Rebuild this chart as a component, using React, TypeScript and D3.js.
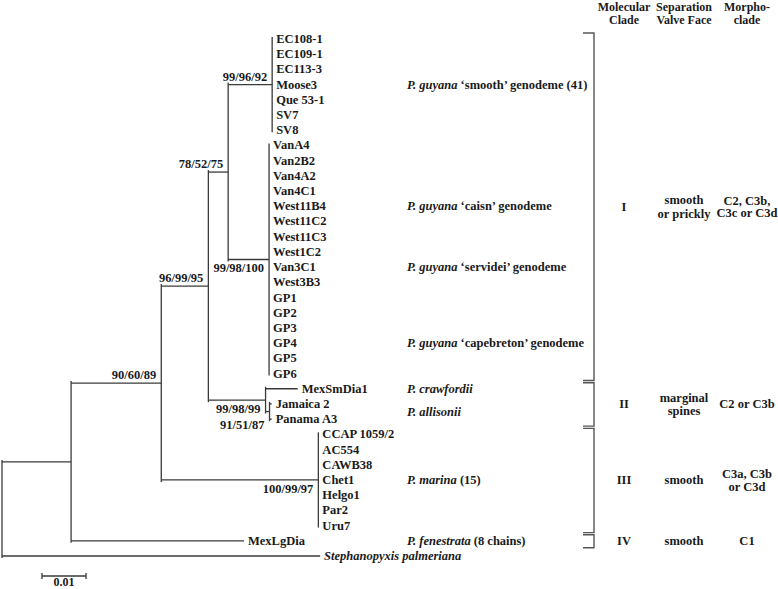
import React from "react";
import * as d3 from "d3";

// ---- Tree data ----
const leafNames = [
  "EC108-1", "EC109-1", "EC113-3", "Moose3", "Que 53-1", "SV7", "SV8",
  "VanA4", "Van2B2", "Van4A2", "Van4C1", "West11B4", "West11C2", "West11C3",
  "West1C2", "Van3C1", "West3B3", "GP1", "GP2", "GP3", "GP4", "GP5", "GP6",
  "MexSmDia1", "Jamaica 2", "Panama A3",
  "CCAP 1059/2", "AC554", "CAWB38", "Chet1", "Helgo1", "Par2", "Uru7",
  "MexLgDia", "Stephanopyxis palmeriana",
];

// node id, parent id, branch length (substitutions/site), in drawing order
const nodeIds = [
  "root", "A", "B", "C", "F", "G",
  "EC108-1", "EC109-1", "EC113-3", "Moose3", "Que 53-1", "SV7", "SV8",
  "H", "VanA4", "Van2B2", "Van4A2", "Van4C1", "West11B4", "West11C2", "West11C3",
  "West1C2", "Van3C1", "West3B3", "GP1", "GP2", "GP3", "GP4", "GP5", "GP6",
  "D", "MexSmDia1", "E", "Jamaica 2", "Panama A3",
  "M", "CCAP 1059/2", "AC554", "CAWB38", "Chet1", "Helgo1", "Par2", "Uru7",
  "MexLgDia", "Stephanopyxis palmeriana",
];
const nodeParents = [
  "", "root", "A", "B", "C", "F",
  "G", "G", "G", "G", "G", "G", "G",
  "F", "H", "H", "H", "H", "H", "H", "H",
  "H", "H", "H", "H", "H", "H", "H", "H", "H",
  "C", "D", "D", "E", "E",
  "B", "M", "M", "M", "M", "M", "M", "M",
  "A", "root",
];
const branchLengths = [
  0, 0.0157, 0.0205, 0.0107, 0.0045, 0.01,
  0, 0, 0, 0, 0, 0, 0,
  0.0093, 0, 0, 0, 0, 0, 0, 0,
  0, 0, 0, 0, 0, 0, 0, 0, 0,
  0.013, 0.0073, 0.0009, 0.0005, 0.0005,
  0.0357, 0, 0, 0, 0, 0, 0, 0,
  0.0393, 0.0723,
];

// bootstrap supports
const supportNodes = ["B", "C", "F", "G", "H", "D", "E", "M"];
const supportValues = ["90/60/89", "96/99/95", "78/52/75", "99/96/92", "99/98/100", "99/98/99", "91/51/87", "100/99/97"];
const supportSide = ["above", "above", "above", "above", "below", "below", "below2", "below"];

// taxon group annotations
const groupAnchors = ["G", "West11B4", "Van3C1", "GP4", "MexSmDia1", "E", "M", "MexLgDia"];
const groupItalic = ["P. guyana", "P. guyana", "P. guyana", "P. guyana", "P. crawfordii", "P. allisonii", "P. marina", "P. fenestrata"];
const groupRest = [" \u2018smooth\u2019 genodeme (41)", " \u2018caisn\u2019 genodeme", " \u2018servidei\u2019 genodeme", " \u2018capebreton\u2019 genodeme", "", "", " (15)", " (8 chains)"];

// clade table
const headers = [["Molecular", "Clade"], ["Separation", "Valve Face"], ["Morpho-", "clade"]];
const cladeNames = ["I", "II", "III", "IV"];
const cladeFirst = ["EC108-1", "MexSmDia1", "CCAP 1059/2", "MexLgDia"];
const cladeLast = ["GP6", "Panama A3", "Uru7", "MexLgDia"];
const valveFace = [["smooth", "or prickly"], ["marginal", "spines"], ["smooth"], ["smooth"]];
const morphoClade = [["C2, C3b,", "C3c or C3d"], ["C2 or C3b"], ["C3a, C3b", "or C3d"], ["C1"]];
const scaleBarValue = 0.01;

const W = 778;
const H = 589;
const FONT = "'Liberation Serif', 'Times New Roman', serif";
const INK = "#1a1a1a";
const LINE = "#3a3a3a";

export default function App() {
  const rows = nodeIds.map((id, i) => ({ id, parent: nodeParents[i], len: branchLengths[i] }));
  const root = d3.stratify<any>().id((d) => d.id).parentId((d) => d.parent || null)(rows);

  const x = d3.scaleLinear().domain([0, scaleBarValue]).range([2, 46]);
  const y = d3.scalePoint<string>().domain(leafNames).range([39, 556]);

  const pos: Record<string, { x: number; y: number }> = {};
  root.eachBefore((n: any) => {
    const px = n.parent ? pos[n.parent.id].x : x(0);
    pos[n.id] = { x: n.parent ? px + (x(n.data.len) - x(0)) : x(0), y: 0 };
  });
  root.eachAfter((n: any) => {
    if (n.children) {
      const ys = n.children.map((c: any) => pos[c.id].y);
      pos[n.id].y = (ys[0] + ys[ys.length - 1]) / 2;
    } else {
      pos[n.id].y = y(n.id) as number;
    }
  });

  const segs: any[] = [];
  root.each((n: any) => {
    const p = pos[n.id];
    if (n.parent) {
      const pp = pos[n.parent.id];
      if (p.x - pp.x > 0.1)
        segs.push(<line key={"h" + n.id} x1={pp.x} x2={p.x} y1={p.y} y2={p.y} />);
    }
    if (n.children) {
      const ys = n.children.map((c: any) => pos[c.id].y);
      segs.push(<line key={"v" + n.id} x1={p.x} x2={p.x} y1={ys[0] - 2} y2={ys[ys.length - 1] + 2} />);
    }
  });
  const leaves = root.leaves();

  const colX = [624, 684, 747];

  const bracketX = 594;
  const sb0 = 42;
  const sb1 = sb0 + (x(scaleBarValue) - x(0));

  return (
    <svg width={W} height={H} style={{ position: "absolute", left: 0, top: 0, background: "#fff" }}
      fontFamily={FONT} fontWeight="bold" fontSize={12.5} fill={INK}>
      <rect width={W} height={H} fill="#fff" />
      <g stroke={LINE} strokeWidth={1.3} fill="none">{segs}</g>

      {leaves.map((n: any) => {
        const p = pos[n.id];
        const italic = n.id.startsWith("Stephanopyxis");
        return (
          <text key={"l" + n.id} x={p.x + 4} y={p.y} dominantBaseline="central" fontStyle={italic ? "italic" : "normal"}>
            {n.id}
          </text>
        );
      })}

      {supportNodes.map((id, i) => {
        const p = pos[id];
        const side = supportSide[i];
        const dy = side === "above" ? -8 : side === "below" ? 9 : 13;
        return (
          <text key={"s" + id} x={p.x - 5} y={p.y + dy} textAnchor="end" dominantBaseline="central">
            {supportValues[i]}
          </text>
        );
      })}

      {groupAnchors.map((id, i) => (
        <text key={"g" + i} x={407} y={pos[id].y} dominantBaseline="central">
          <tspan fontStyle="italic">{groupItalic[i]}</tspan>
          <tspan>{groupRest[i]}</tspan>
        </text>
      ))}

      {headers.map((lines, c) =>
        lines.map((t, j) => (
          <text key={"hd" + c + j} x={colX[c]} y={7 + j * 13} textAnchor="middle" dominantBaseline="central" fontSize={12}>
            {t}
          </text>
        ))
      )}

      {cladeNames.map((name, i) => {
        const y0 = (y(cladeFirst[i]) as number) - 6;
        const y1 = (y(cladeLast[i]) as number) + 7;
        const cy = (y0 + y1) / 2;
        const vf = valveFace[i];
        const mc = morphoClade[i];
        return (
          <g key={"c" + name}>
            <path d={`M${bracketX - 11},${y0}H${bracketX}V${y1}H${bracketX - 11}`} stroke="#555" strokeWidth={1.4} fill="none" />
            <text x={colX[0]} y={cy} textAnchor="middle" dominantBaseline="central">{name}</text>
            {vf.map((t, j) => (
              <text key={"v" + j} x={colX[1]} y={cy + (j - (vf.length - 1) / 2) * 13.5} textAnchor="middle" dominantBaseline="central">{t}</text>
            ))}
            {mc.map((t, j) => (
              <text key={"m" + j} x={colX[2]} y={cy + (j - (mc.length - 1) / 2) * 12.5} textAnchor="middle" dominantBaseline="central">{t}</text>
            ))}
          </g>
        );
      })}

      <g stroke={LINE} strokeWidth={1.3}>
        <line x1={sb0} x2={sb1} y1={576} y2={576} />
        <line x1={sb0} x2={sb0} y1={573} y2={579} />
        <line x1={sb1} x2={sb1} y1={573} y2={579} />
      </g>
      <text x={(sb0 + sb1) / 2} y={582} textAnchor="middle" dominantBaseline="central" fontSize={12}>
        {String(scaleBarValue)}
      </text>
    </svg>
  );
}
